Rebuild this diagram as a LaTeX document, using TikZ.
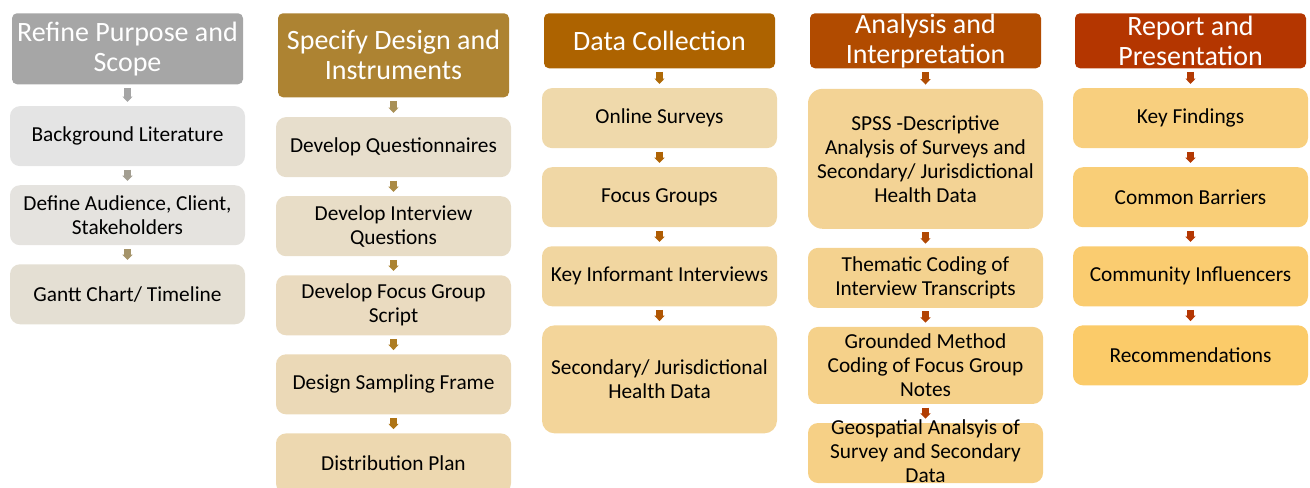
\documentclass[tikz,border=0pt]{standalone}
\usepackage{fontspec}
\setmainfont{Carlito}
\usetikzlibrary{arrows.meta,positioning}

% stage colours (header, arrows, box fills)
\definecolor{hdA}{HTML}{A6A6A6}
\definecolor{hdB}{HTML}{AD8332}
\definecolor{hdC}{HTML}{AD6300}
\definecolor{hdD}{HTML}{B14B00}
\definecolor{hdE}{HTML}{B43600}

\definecolor{arA1}{HTML}{A5A5A5}
\definecolor{arA2}{HTML}{A39E91}
\definecolor{arA3}{HTML}{A5946A}
\definecolor{arB1}{HTML}{A89057}
\definecolor{arB2}{HTML}{AA8A44}
\definecolor{arB3}{HTML}{AB8331}
\definecolor{arB4}{HTML}{AD7C22}
\definecolor{arB5}{HTML}{AE7415}
\definecolor{arC1}{HTML}{AF6A08}
\definecolor{arC2}{HTML}{AF6304}
\definecolor{arC3}{HTML}{AF5C03}
\definecolor{arC4}{HTML}{B05603}
\definecolor{arD1}{HTML}{B04D03}
\definecolor{arD2}{HTML}{B14803}
\definecolor{arD3}{HTML}{B24303}
\definecolor{arD4}{HTML}{B23E03}
\definecolor{arE1}{HTML}{B33A03}
\definecolor{arE2}{HTML}{B33803}
\definecolor{arE3}{HTML}{B43703}
\definecolor{arE4}{HTML}{B43603}

\definecolor{fA1}{HTML}{E4E4E4}
\definecolor{fA2}{HTML}{E5E3DF}
\definecolor{fA3}{HTML}{E4DFD3}
\definecolor{fB1}{HTML}{E7DECC}
\definecolor{fB2}{HTML}{E8DDC7}
\definecolor{fB3}{HTML}{EADBC0}
\definecolor{fB4}{HTML}{EBD9B7}
\definecolor{fB5}{HTML}{EDD8B0}
\definecolor{fC1}{HTML}{EFD9AB}
\definecolor{fC2}{HTML}{F0D7A5}
\definecolor{fC3}{HTML}{F1D6A0}
\definecolor{fC4}{HTML}{F3D59A}
\definecolor{fD1}{HTML}{F3D395}
\definecolor{fD2}{HTML}{F4D28F}
\definecolor{fD3}{HTML}{F5D18A}
\definecolor{fD4}{HTML}{F6D086}
\definecolor{fE1}{HTML}{F8CF7E}
\definecolor{fE2}{HTML}{F9CE77}
\definecolor{fE3}{HTML}{FACC70}
\definecolor{fE4}{HTML}{FBCB69}

\begin{document}
\begin{tikzpicture}[
  box/.style={rounded corners=7.5pt, minimum width=176.25pt, minimum height=45pt,
    inner sep=0pt, align=center, font=\fontsize{16}{18}\selectfont, text=black},
  item/.style={box, fill=#1},
  head/.style={box, fill=#1, rounded corners=3.75pt, minimum width=173.25pt,
    minimum height=41.25pt, font=\fontsize{21}{22.5}\selectfont, text=white},
  txt/.style={align=center, inner sep=0pt, font=\fontsize{16}{18}\selectfont},
  arr/.style={draw=#1, line width=5pt, -{Triangle[width=7.5pt,length=4pt]},
    shorten <=2.5pt, shorten >=3pt},
  node distance=13.9pt,
]
\useasboundingbox (0,0) rectangle (982.5pt,-365.25pt);
\clip (0,0) rectangle (982.5pt,-365.25pt);

% Refine purpose
\node[head=hdA, minimum height=53.25pt, anchor=north] (hA) at (95.625pt,-9.75pt) {Refine Purpose and\\Scope};
\node[item=fA1, below=16pt of hA] (a1) {Background Literature};
\node[item=fA2, below=of a1] (a2) {Define Audience, Client,\\Stakeholders};
\node[item=fA3, below=of a2] (a3) {Gantt Chart/ Timeline};

% Specify design
\node[head=hdB, minimum height=63pt, anchor=north] (hB) at (295.125pt,-9.75pt) {Specify Design and\\Instruments};
\node[item=fB1, below=14.5pt of hB] (b1) {Develop Questionnaires};
\node[item=fB2, below=of b1] (b2) {Develop Interview\\Questions};
\node[item=fB3, below=of b2] (b3) {Develop Focus Group\\Script};
\node[item=fB4, below=of b3] (b4) {Design Sampling Frame};
\node[item=fB5, below=of b4] (b5) {Distribution Plan};

% Data collection
\node[head=hdC, anchor=north] (hC) at (494.625pt,-9.75pt) {Data Collection};
\node[item=fC1, below=14.5pt of hC] (c1) {Online Surveys};
\node[item=fC2, below=of c1] (c2) {Focus Groups};
\node[item=fC3, below=of c2] (c3) {Key Informant Interviews};
\node[item=fC4, minimum height=81pt, rounded corners=9.5pt, below=of c3] (c4) {Secondary/ Jurisdictional\\Health Data};

% Analysis
\node[head=hdD, anchor=north] (hD) at (694.125pt,-9.75pt) {Analysis and\\Interpretation};
\node[item=fD1, minimum height=105pt, rounded corners=11pt, below=15pt of hD] (d1)
  {SPSS -Descriptive\\Analysis of Surveys and\\Secondary/ Jurisdictional\\Health Data};
\node[item=fD2, below=of d1] (d2) {Thematic Coding of\\Interview Transcripts};
\node[item=fD3, minimum height=57.75pt, below=of d2] (d3) {Grounded Method\\Coding of Focus Group\\Notes};
\node[item=fD4, below=of d3] (d4) {};
\node[txt] at ([yshift=1.5pt]d4.center) {Geospatial Analsyis of\\Survey and Secondary\\Data};

% Report
\node[head=hdE, anchor=north] (hE) at (892.875pt,-9.75pt) {Report and\\Presentation};
\node[item=fE1, below=14.5pt of hE] (e1) {Key Findings};
\node[item=fE2, below=of e1] (e2) {Common Barriers};
\node[item=fE3, below=of e2] (e3) {Community Influencers};
\node[item=fE4, below=of e3] (e4) {Recommendations};

% down arrows
\foreach \a/\b/\c in {hA/a1/arA1, a1/a2/arA2, a2/a3/arA3,
    hB/b1/arB1, b1/b2/arB2, b2/b3/arB3, b3/b4/arB4, b4/b5/arB5,
    hC/c1/arC1, c1/c2/arC2, c2/c3/arC3, c3/c4/arC4,
    hD/d1/arD1, d1/d2/arD2, d2/d3/arD3, d3/d4/arD4,
    hE/e1/arE1, e1/e2/arE2, e2/e3/arE3, e3/e4/arE4}
  \draw[arr=\c] (\a) -- (\b);

\end{tikzpicture}
\end{document}
